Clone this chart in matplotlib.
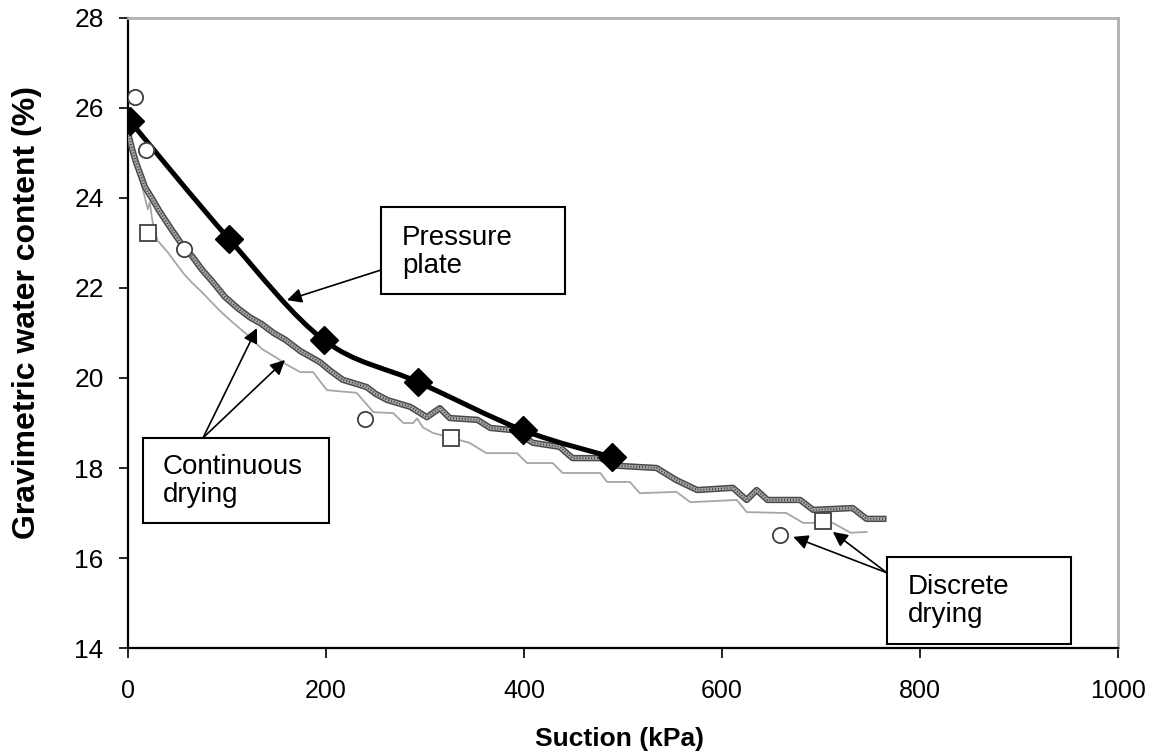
import matplotlib
matplotlib.use("Agg")
import matplotlib.pyplot as plt
from matplotlib.patches import Rectangle, PathPatch
from matplotlib.path import Path
import numpy as np

# pressure plate test (diamonds, smooth black line)
pp_suction = [2, 102, 198, 293, 399, 489]
pp_water = [25.71, 23.09, 20.84, 19.91, 18.84, 18.24]

# discrete drying, two specimens
dd_circ_suction = [7, 18, 57, 239, 659]
dd_circ_water = [26.24, 25.07, 22.87, 19.09, 16.51]
dd_sq_suction = [20, 326, 702]
dd_sq_water = [23.22, 18.67, 16.82]

# continuous drying, specimen 1 (dark textured line)
cd1_suction = [0, 4, 8, 13, 17, 24, 32, 44, 55, 65, 75, 85, 98, 111, 123, 135, 147, 159,
               174, 194, 205, 217, 241, 250, 262, 285, 302, 315, 325, 353, 366, 389, 409,
               436, 449, 477, 494, 534, 554, 575, 611, 625, 635, 646, 679, 692, 732, 746, 763]
cd1_water = [25.45, 25.1, 24.8, 24.5, 24.25, 24.0, 23.7, 23.3, 22.95, 22.7, 22.4, 22.15, 21.8,
             21.55, 21.35, 21.2, 21.0, 20.85, 20.6, 20.35, 20.15, 19.96, 19.8, 19.65, 19.51,
             19.36, 19.13, 19.33, 19.11, 19.07, 18.89, 18.84, 18.56, 18.47, 18.22, 18.22,
             18.05, 18.0, 17.73, 17.51, 17.56, 17.29, 17.51, 17.29, 17.29, 17.07, 17.11,
             16.87, 16.87]

# continuous drying, specimen 2 (thin light line)
cd2_suction = [3, 9, 15, 20, 22, 25, 30, 40, 48, 57, 65, 75, 85, 95, 105, 121, 135, 150, 160,
               174, 187, 201, 231, 248, 268, 278, 288, 292, 298, 308, 330, 345, 362, 393, 403,
               429, 439, 477, 484, 507, 517, 554, 568, 615, 625, 665, 682, 712, 730, 746]
cd2_water = [25.3, 24.7, 24.2, 23.75, 23.9, 23.45, 23.05, 22.8, 22.56, 22.3, 22.11, 21.9,
             21.67, 21.45, 21.25, 20.95, 20.65, 20.45, 20.3, 20.13, 20.13, 19.73, 19.67,
             19.24, 19.22, 19.0, 19.0, 19.1, 18.9, 18.78, 18.65, 18.56, 18.33, 18.33, 18.11,
             18.11, 17.89, 17.89, 17.69, 17.69, 17.44, 17.47, 17.24, 17.29, 17.02, 17.0,
             16.78, 16.78, 16.56, 16.58]

x_ticks = [0, 200, 400, 600, 800, 1000]
y_ticks = [14, 16, 18, 20, 22, 24, 26, 28]

plt.rcParams['font.family'] = ['Liberation Sans', 'DejaVu Sans']


def smooth_path(xs, ys, t=1/6.):
    """Excel style smoothed line: cubic bezier pieces through the given points"""
    xs = np.asarray(xs, float)
    ys = np.asarray(ys, float)
    verts = [(xs[0], ys[0])]
    codes = [Path.MOVETO]
    n = len(xs)
    for i in range(n - 1):
        p0 = i - 1 if i > 0 else i
        p3 = i + 2 if i + 2 < n else i + 1
        c1 = (xs[i] + (xs[i+1] - xs[p0]) * t, ys[i] + (ys[i+1] - ys[p0]) * t)
        c2 = (xs[i+1] - (xs[p3] - xs[i]) * t, ys[i+1] - (ys[p3] - ys[i]) * t)
        verts += [c1, c2, (xs[i+1], ys[i+1])]
        codes += [Path.CURVE4] * 3
    return Path(verts, codes)


fig = plt.figure(figsize=(11.56, 7.55), dpi=100)
ax = fig.add_axes([0.1107, 0.1417, 0.8564, 0.8345])

ax.plot(cd2_suction, cd2_water, color='#a6a6a6', lw=1.3, zorder=2)
ax.plot(cd1_suction, cd1_water, color='#4a4a4a', lw=4.6, zorder=3)
ax.plot(cd1_suction, cd1_water, color='#a8a8a8', lw=2.4, zorder=3)
ax.plot(cd1_suction, cd1_water, color='#3a3a3a', lw=1.4, ls=(0, (0.5, 1.0)), zorder=3)

ax.add_patch(PathPatch(smooth_path(pp_suction, pp_water), facecolor='none',
                       edgecolor='black', lw=3.6, zorder=5))
ax.plot(pp_suction, pp_water, ls='none', marker='D', ms=14,
        mfc='black', mec='black', zorder=5)
ax.plot(dd_circ_suction, dd_circ_water, ls='none', marker='o', ms=11, mfc='white',
        mec='#404040', mew=1.3, zorder=6)
ax.plot(dd_sq_suction, dd_sq_water, ls='none', marker='s', ms=12, mfc='white',
        mec='#404040', mew=1.3, zorder=6)

ax.set_xlim(0, 1000)
ax.set_ylim(14, 28)
ax.set_xticks(x_ticks)
ax.set_yticks(y_ticks)
ax.set_xticklabels([str(v) for v in x_ticks], fontsize=18)
ax.set_yticklabels([str(v) for v in y_ticks], fontsize=19)
ax.tick_params(axis='x', direction='out', length=7.2, width=1.2, pad=15)
ax.tick_params(axis='y', direction='out', length=6.5, width=1.2, pad=11)

for side in ['top', 'right']:
    ax.spines[side].set_color('#b0b0b0')
    ax.spines[side].set_linewidth(2)
for side in ['left', 'bottom']:
    ax.spines[side].set_color('black')
    ax.spines[side].set_linewidth(1.6)

ax.set_xlabel('Suction (kPa)', fontsize=19, fontweight='bold')
ax.set_ylabel('Gravimetric water content (%)', fontsize=23, fontweight='bold')
ax.xaxis.set_label_coords(0.497, -0.125)
ax.yaxis.set_label_coords(-0.087, 0.533)

arrow = dict(arrowstyle='-|>', color='black', lw=1.2, mutation_scale=22, shrinkA=0, shrinkB=0)

# boxes: (x0, y0, x1, y1), text, text anchor
boxes = [((255.6, 21.87, 441.4, 23.8), "Pressure\nplate", (276.8, 23.4)),
         ((15.2, 16.78, 203.0, 18.67), "Continuous\ndrying", (35.4, 18.31)),
         ((766.7, 14.09, 952.5, 16.02), "Discrete\ndrying", (787.9, 15.64))]
for (x0, y0, x1, y1), txt, (tx, ty) in boxes:
    ax.add_patch(Rectangle((x0, y0), x1 - x0, y1 - y0, facecolor='white',
                           edgecolor='black', lw=1.5, zorder=7))
    ax.text(tx, ty, txt, fontsize=20, va='top', ha='left', linespacing=1.1, zorder=8)

ax.annotate('', xy=(160.6, 21.73), xytext=(255.6, 22.4), arrowprops=arrow, zorder=8)
ax.annotate('', xy=(130.3, 21.11), xytext=(75.8, 18.67), arrowprops=arrow, zorder=8)
ax.annotate('', xy=(158.6, 20.4), xytext=(75.8, 18.67), arrowprops=arrow, zorder=8)
ax.annotate('', xy=(672, 16.47), xytext=(766.7, 15.67), arrowprops=arrow, zorder=8)
ax.annotate('', xy=(712, 16.58), xytext=(766.7, 15.67), arrowprops=arrow, zorder=8)

fig.savefig('out.png', dpi=100)
